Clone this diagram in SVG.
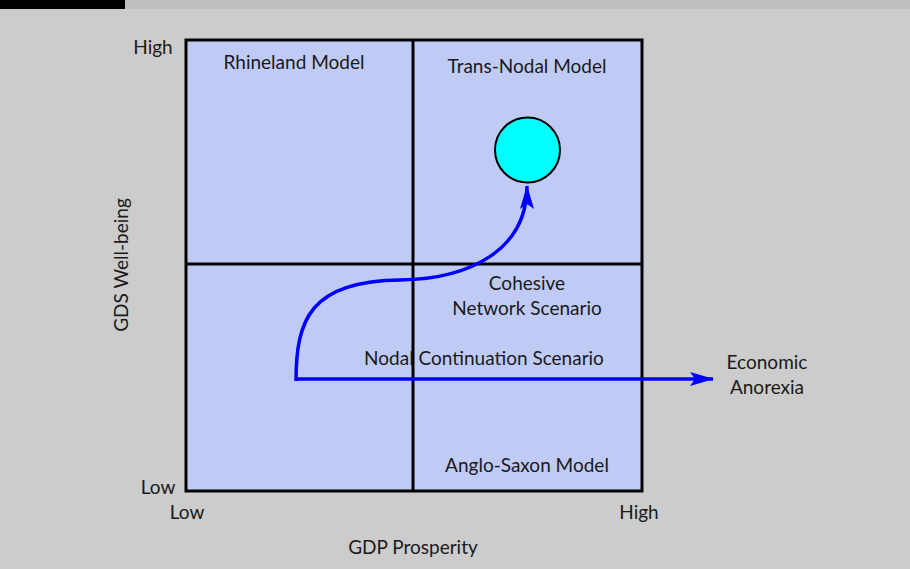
<svg xmlns="http://www.w3.org/2000/svg" width="910" height="569" viewBox="0 0 910 569">
<style>
text{font-family:Lato,"Open Sans","Liberation Sans",sans-serif;font-size:19px;fill:#1a1a1a}
.c{text-anchor:middle}
.grid{stroke:#000;stroke-width:3;fill:none}
.flow{stroke:#0000ff;stroke-width:3.5;fill:none}
</style>
<defs>
<marker id="ah2" viewBox="0 0 24 14" markerWidth="24" markerHeight="14" refX="23" refY="7" orient="auto" markerUnits="userSpaceOnUse">
<path d="M0,0 L24,7 L0,14 L5,7 Z" fill="#0000ff"/>
</marker>
</defs>
<rect x="0" y="0" width="910" height="569" fill="#cccccc"/>
<rect x="0" y="0" width="910" height="9" fill="#bfbfbf"/>
<rect x="0" y="0" width="125" height="9" fill="#000"/>
<g id="matrix">
<rect x="186" y="40" width="456" height="451" fill="#bfcbf5" stroke="#000" stroke-width="3"/>
<line class="grid" x1="413" y1="40" x2="413" y2="491"/>
<line class="grid" x1="186" y1="264" x2="642" y2="264"/>
</g>
<g id="axes">
<text x="153" y="54" class="c">High</text>
<text x="158" y="494" class="c">Low</text>
<text x="187" y="519" class="c">Low</text>
<text x="639" y="519" class="c">High</text>
<text x="413" y="554" class="c">GDP Prosperity</text>
<text class="c" transform="translate(128,265) rotate(-90)">GDS Well-being</text>
</g>
<g id="rhineland"><text x="294" y="69" class="c">Rhineland Model</text></g>
<g id="transnodal"><text x="527" y="73" class="c">Trans-Nodal Model</text></g>
<g id="cohesive"><text x="527" y="290" class="c">Cohesive</text><text x="527" y="315" class="c">Network Scenario</text></g>
<g id="nodal"><text x="484" y="365" class="c">Nodal Continuation Scenario</text></g>
<g id="anglosaxon"><text x="527" y="472" class="c">Anglo-Saxon Model</text></g>
<g id="anorexia"><text x="767" y="369" class="c">Economic</text><text x="767" y="394" class="c">Anorexia</text></g>
<g id="target"><circle cx="527.5" cy="150" r="32.5" fill="#00ffff" stroke="#000" stroke-width="2"/></g>
<g id="connectors">
<path class="flow" d="M296,381 C296,320 310,281 400,280 C470,279 527,250 527,186" marker-end="url(#ah2)"/>
<path class="flow" d="M296,379 L713,379" marker-end="url(#ah2)"/>
</g>
</svg>
